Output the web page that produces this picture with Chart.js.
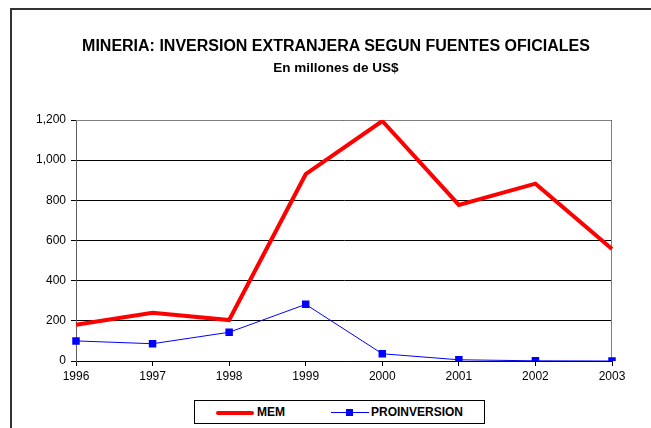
<!DOCTYPE html>
<html>
<head>
<meta charset="utf-8">
<script src="https://cdn.jsdelivr.net/npm/chart.js@4.4.1/dist/chart.umd.min.js"></script>
<style>
  html, body { margin: 0; padding: 0; background: #fff; }
  body { width: 651px; height: 428px; position: relative; overflow: hidden; font-family: "Liberation Sans", Arial, sans-serif; }
  #frame { position: absolute; left: 10px; top: 8px; width: 700px; height: 500px; border-left: 2px solid #333; border-top: 2px solid #333; }
  #wrap { position: absolute; left: 0; top: 0; width: 651px; height: 428px; }
  .t { position: absolute; left: 0; width: 672px; text-align: center; font-weight: bold; color: #000; white-space: nowrap; }
  #title { top: 37px; font-size: 16px; }
  #sub { top: 60px; font-size: 13.5px; }
  #legend { position: absolute; left: 194px; top: 400px; width: 291px; height: 24px; border: 1px solid #000; box-sizing: border-box; background: #fff; }
  .li { position: absolute; top: 4px; font-size: 12px; font-weight: bold; }
  .sw { position: absolute; }
</style>
</head>
<body>
<div id="frame"></div>
<div id="wrap"><canvas id="c" width="651" height="428"></canvas></div>
<div class="t" id="title">MINERIA: INVERSION EXTRANJERA SEGUN FUENTES OFICIALES</div>
<div class="t" id="sub">En millones de US$</div>
<div id="legend">
  <div class="sw" style="left:21px;top:10px;width:38px;height:4px;background:#ff0000;border-radius:2px;"></div>
  <div class="li" style="left:62px;">MEM</div>
  <div class="sw" style="left:136px;top:11px;width:38px;height:1px;background:#0000ff;"></div>
  <div class="sw" style="left:151px;top:8px;width:7px;height:7px;background:#0000ff;"></div>
  <div class="li" style="left:176px;">PROINVERSION</div>
</div>
<script>
const years = ["1996", "1997", "1998", "1999", "2000", "2001", "2002", "2003"];
const memValues = [180, 240, 204, 930, 1195, 777, 883, 558];
const proinversionValues = [100, 86, 143, 282, 36, 6, 1, 0];
const yTicks = [0, 200, 400, 600, 800, 1000, 1200];

const frameBorder = {
  id: 'frameBorder',
  beforeDatasetsDraw(chart) {
    const a = chart.chartArea, ctx = chart.ctx;
    ctx.save();
    ctx.strokeStyle = '#808080';
    ctx.lineWidth = 1;
    ctx.beginPath();
    ctx.moveTo(a.left, a.top + 0.5);
    ctx.lineTo(a.right - 0.5, a.top + 0.5);
    ctx.lineTo(a.right - 0.5, a.bottom);
    ctx.stroke();
    ctx.restore();
  }
};

new Chart(document.getElementById('c'), {
  type: 'line',
  data: {
    labels: years,
    datasets: [
      { label: 'MEM', data: memValues, borderColor: '#ff0000', backgroundColor: '#ff0000', borderWidth: 4, pointRadius: 0, tension: 0, borderCapStyle: 'butt' },
      { label: 'PROINVERSION', data: proinversionValues, borderColor: '#0000ff', backgroundColor: '#0000ff', borderWidth: 1, pointStyle: 'rect', pointRadius: 5.3, pointBorderWidth: 0, tension: 0 }
    ]
  },
  options: {
    responsive: false,
    animation: false,
    events: [],
    layout: { padding: { left: 0, right: 39, top: 120, bottom: 0 } },
    plugins: { legend: { display: false }, title: { display: false }, tooltip: { enabled: false } },
    scales: {
      x: {
        offset: false,
        grid: { display: true, drawOnChartArea: false, drawTicks: true, tickLength: 5, color: '#000' },
        border: { display: true, color: '#000', width: 1 },
        ticks: { color: '#000', font: { family: 'Liberation Sans', size: 12 }, padding: 3, maxRotation: 0, autoSkip: false },
        afterFit(s) { s.height = 67; }
      },
      y: {
        min: 0, max: 1200,
        afterBuildTicks(s) { s.ticks = yTicks.map(v => ({ value: v })); },
        grid: { color: '#000', lineWidth: 1, drawTicks: true, tickLength: 5 },
        border: { display: true, color: '#606060', width: 1 },
        ticks: { color: '#000', font: { family: 'Liberation Sans', size: 12 }, padding: 5,
          callback: v => v.toLocaleString('en-US') },
        afterFit(s) { s.width = 76; }
      }
    }
  },
  plugins: [frameBorder]
});
</script>
</body>
</html>
